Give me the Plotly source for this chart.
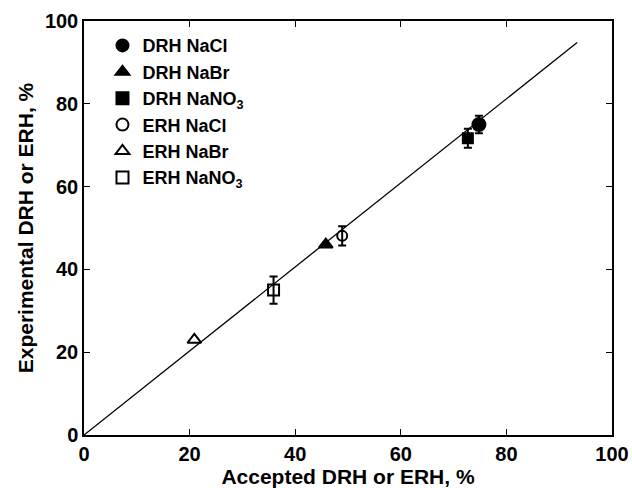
import plotly.graph_objects as go

names = ["DRH NaCl", "DRH NaBr", "DRH NaNO<sub>3</sub>", "ERH NaCl", "ERH NaBr", "ERH NaNO<sub>3</sub>"]
accepted = [74.8, 45.8, 72.7, 48.9, 20.9, 35.9]
experimental = [75.0, 46.0, 71.7, 48.1, 23.0, 35.0]
errors = [2.1, 0.0, 2.3, 2.3, 0.0, 3.3]
symbols = ["circle", "triangle-up", "square", "circle-open", "triangle-up-open", "square-open"]
sizes = [13, 12, 10, 10, 12, 11]

line_x = [0, 93.4]
line_y = [0, 94.8]

FONT = "Arial, Liberation Sans, sans-serif"

fig = go.Figure()
fig.add_trace(go.Scatter(x=line_x, y=line_y, mode="lines",
                         line=dict(color="black", width=1.3), showlegend=False, hoverinfo="skip"))
for n, xv, yv, e, s, sz in zip(names, accepted, experimental, errors, symbols, sizes):
    fig.add_trace(go.Scatter(
        x=[xv], y=[yv], mode="markers", name=n,
        marker=dict(symbol=s, size=sz, color="black", line=dict(color="black", width=2)),
        error_y=dict(type="data", array=[e], visible=e > 0, color="black", thickness=2, width=4),
    ))

axis_common = dict(range=[0, 100], dtick=20, showline=True, linecolor="black", linewidth=1.5,
                   mirror="ticks", ticks="inside", ticklen=6, tickcolor="black", showgrid=False,
                   zeroline=False, automargin=False,
                   tickfont=dict(family=FONT, size=20, color="black", weight="bold"))

fig.update_layout(
    width=632, height=488,
    margin=dict(l=84, r=20, t=21, b=53),
    paper_bgcolor="white", plot_bgcolor="white",
    xaxis=dict(**axis_common, title=dict(text="Accepted DRH or ERH, %", standoff=8,
               font=dict(family=FONT, size=21, color="black", weight="bold"))),
    yaxis=dict(**axis_common, title=dict(text="Experimental DRH or ERH, %", standoff=6,
               font=dict(family=FONT, size=21, color="black", weight="bold"))),
    legend=dict(x=0.035, y=0.985, xanchor="left", yanchor="top", bgcolor="rgba(0,0,0,0)",
                font=dict(family=FONT, size=18, color="black", weight="bold"),
                tracegroupgap=0, itemsizing="constant", itemwidth=30),
    showlegend=True,
)

fig.write_html("out.html")
